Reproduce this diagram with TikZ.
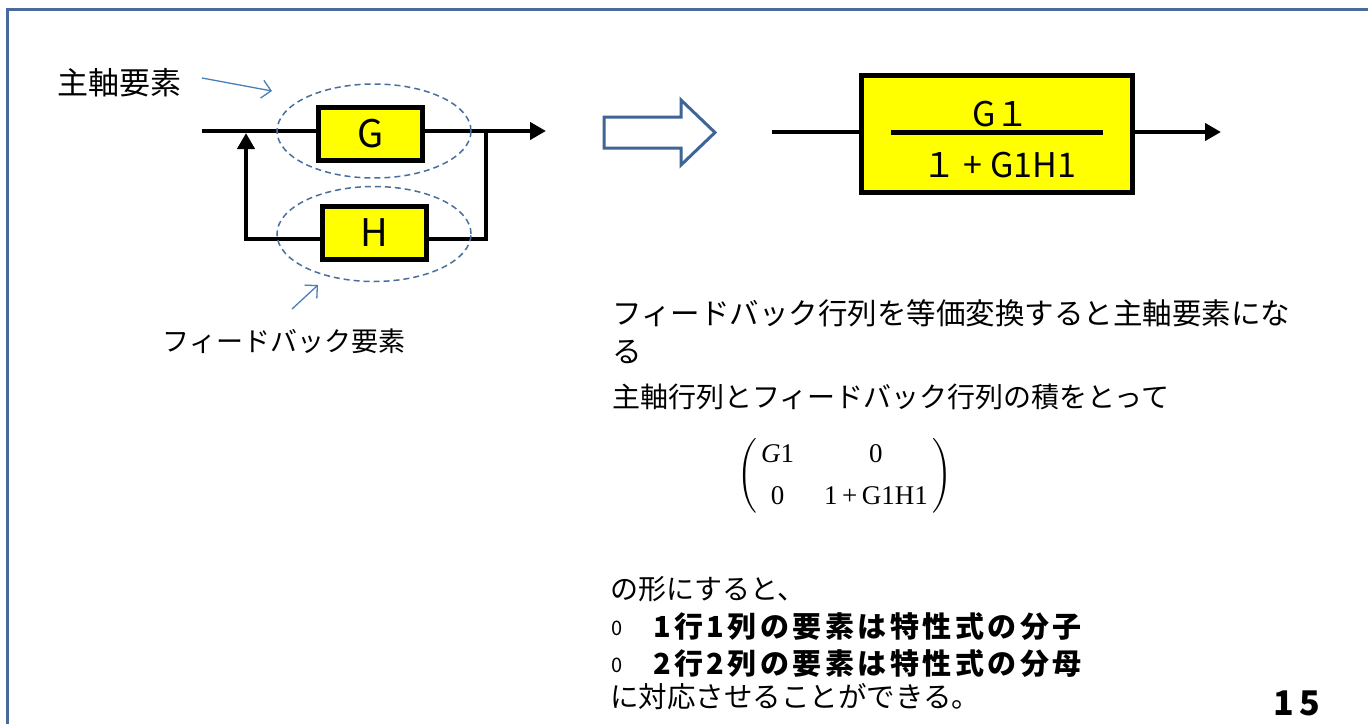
\RequirePackage{fix-cm}
\documentclass[tikz,border=0pt]{standalone}
\usepackage{fontspec}
\usepackage{amsmath}
\setmainfont{Noto Sans CJK JP}
\newfontfamily\tm{Liberation Serif}
\usetikzlibrary{arrows.meta,shapes.geometric}
\definecolor{frameblue}{HTML}{4A6A9C}
\definecolor{dashblue}{HTML}{4A6F9E}
\definecolor{arrblue}{HTML}{4A7EBB}
\definecolor{boxyellow}{HTML}{FFFF00}
\definecolor{hollowblue}{HTML}{3F6496}
\begin{document}
\begin{tikzpicture}[x=1pt,y=-1pt,
  blk/.style={draw=black, fill=boxyellow, line width=5, inner sep=0},
  sig/.style={line width=4, black},
  tipped/.style={-{Triangle[length=16,width=17]}},
  grp/.style={draw=dashblue, dash pattern=on 6pt off 4pt, line width=1.5},
  callout/.style={arrblue, line width=1.3, -{Straight Barb[length=9,width=18]}},
  lab/.style={inner sep=0, font=\fontsize{28}{34}\selectfont},
  lft/.style={lab, anchor=west},
  boldline/.style={lft, font=\fontsize{29}{34}\selectfont\bfseries\addfontfeature{LetterSpace=12}},
  bullet/.style={inner sep=0, font=\fontsize{20}{24}\selectfont}]
\useasboundingbox (0,0) rectangle (1368,723);
\fill[white] (0,0) rectangle (1368,723);
\draw[frameblue, line width=3] (7,730) -- (7,9) -- (1375,9);

% left block diagram
\coordinate (in) at (202,131);
\coordinate (out) at (546,131);
\coordinate (jr) at (486,131);
\coordinate (br) at (486,239);
\coordinate (bl) at (246,239);
\coordinate (jl) at (246,133);
\draw[sig, tipped] (in) -- (out);
\draw[sig, tipped] (jr) -- (br) -- (bl) -- (jl);
\node[blk, minimum width=104, minimum height=53, font=\fontsize{38}{40}\selectfont] (G) at (370.5,134) {G};
\node[blk, minimum width=104, minimum height=53, font=\fontsize{38}{40}\selectfont] (H) at (374.5,233) {H};
\node[grp, ellipse, minimum width=194, minimum height=94, inner sep=0] (eG) at (374,131) {};
\node[grp, ellipse, minimum width=194, minimum height=95, inner sep=0] (eH) at (374,234) {};

\node[lab, font=\fontsize{31}{34}\selectfont] (lmain) at (119,83) {主軸要素};
\coordinate (cm) at (272,91);
\draw[callout] (202,78) -- (cm);
\node[lab, font=\fontsize{27}{32}\selectfont] (lfb) at (284,341) {フィードバック要素};
\coordinate (cf) at (318,285);
\draw[callout] (292,309) -- (cf);

% hollow arrow
\draw[hollowblue, line width=3, fill=white] (604,117) -- (681,117) -- (681,100) -- (715,132.5) -- (681,165) -- (681,148) -- (604,148) -- cycle;

% equivalent block
\node[blk, minimum width=271, minimum height=117] (F) at (997,134) {};
\coordinate (inR) at (772,132);
\coordinate (outR) at (1221,132);
\draw[sig] (inR) -- (F.west |- inR);
\draw[sig, tipped] (F.east |- outR) -- (outR);
\draw[line width=5] (891,132) -- (1103,132);
\node[lab, font=\fontsize{34}{38}\selectfont] (num) at (1001,114) {G１};
\node[lab, font=\fontsize{34}{38}\selectfont] (den) at (999,165) {１ + G1H1};

% text
\node[lft, font=\fontsize{29.5}{34}\selectfont] (t1) at (612,313) {フィードバック行列を等価変換すると主軸要素にな};
\node[lft, font=\fontsize{29.5}{34}\selectfont] (t2) at (612,352) {る};
\node[lft] (t3) at (612,397) {主軸行列とフィードバック行列の積をとって};
\node[inner sep=0, font=\fontsize{25}{30}\selectfont] (M) at (844.5,475.5)
  {$\Bigg($\,{\tm\fontsize{27}{42}\selectfont\begin{tabular}{@{}c@{\hspace{30pt}}c@{}}\textit{G}1 & 0\\ 0 & 1\,+\,G1H1\end{tabular}}\,$\Bigg)$};
\node[lft] (t4) at (610,589) {の形にすると、};
\node[bullet] (b1) at (617,628) {0};
\node[boldline] (t5) at (653,627) {1行1列の要素は特性式の分子};
\node[bullet] (b2) at (617,665) {0};
\node[boldline] (t6) at (653,664) {2行2列の要素は特性式の分母};
\node[lft, font=\fontsize{28.5}{34}\selectfont] (t7) at (610,697) {に対応させることができる。};
\node[lab, font=\fontsize{34}{38}\selectfont\bfseries] (pg) at (1297,703) {1\kern5pt5};
\end{tikzpicture}
\end{document}
